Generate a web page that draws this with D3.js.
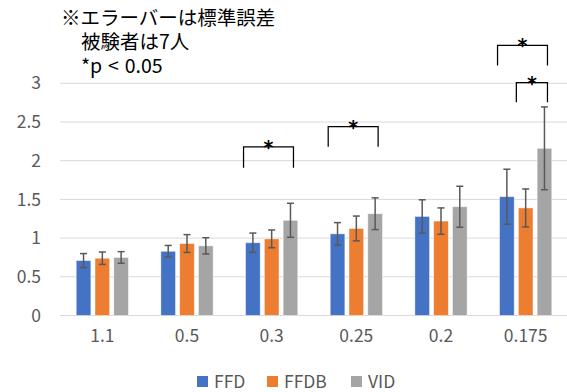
<!DOCTYPE html>
<html>
<head>
<meta charset="utf-8">
<script src="https://cdn.jsdelivr.net/npm/d3@7"></script>
<style>
  body { margin: 0; background: #fff; }
  svg { display: block; font-family: "Noto Sans CJK JP", "Noto Sans", sans-serif; }
</style>
</head>
<body>
<div id="chart"></div>
<script>
const categories = ["1.1", "0.5", "0.3", "0.25", "0.2", "0.175"];
const seriesNames = ["FFD", "FFDB", "VID"];
const colors = ["#4472C4", "#ED7D31", "#A5A5A5"];

const ffd = [0.71, 0.83, 0.94, 1.055, 1.28, 1.535];
const ffdb = [0.74, 0.93, 0.99, 1.125, 1.22, 1.39];
const vid = [0.75, 0.90, 1.23, 1.315, 1.405, 2.16];

const ffdErr = [0.09, 0.075, 0.125, 0.145, 0.215, 0.355];
const ffdbErr = [0.08, 0.115, 0.115, 0.16, 0.17, 0.245];
const vidErr = [0.075, 0.105, 0.22, 0.205, 0.265, 0.535];

const yTicks = [0, 0.5, 1, 1.5, 2, 2.5, 3];

// significance brackets: category, first and last series, top level, leg bottom
const brackets = [
  { cat: "0.3", from: 0, to: 2, top: 2.18, bottom: 1.91 },
  { cat: "0.25", from: 0, to: 2, top: 2.44, bottom: 2.18 },
  { cat: "0.175", from: 0, to: 2, top: 3.49, bottom: 3.23 },
  { cat: "0.175", from: 1, to: 2, top: 3.01, bottom: 2.755 }
];

const notes = ["※エラーバーは標準誤差", "被験者は7人", "*p < 0.05"];

const values = [ffd, ffdb, vid];
const errors = [ffdErr, ffdbErr, vidErr];

const width = 567, height = 392;
const svg = d3.select("#chart").append("svg")
  .attr("width", width)
  .attr("height", height);

const x0 = d3.scaleBand()
  .domain(categories)
  .range([60, 568])
  .paddingInner(0.334)
  .paddingOuter(0.167);

const x1 = d3.scaleBand()
  .domain(d3.range(seriesNames.length))
  .range([0, x0.bandwidth()])
  .paddingInner(0.22)
  .paddingOuter(0.11);

const y = d3.scaleLinear()
  .domain([0, 3])
  .range([315.5, 83.3]);

// gridlines
svg.append("g")
  .selectAll("line")
  .data(yTicks)
  .join("line")
  .attr("x1", 60)
  .attr("x2", 567)
  .attr("y1", d => y(d))
  .attr("y2", d => y(d))
  .attr("stroke", "#D9D9D9")
  .attr("stroke-width", 1);

// y axis labels
const yAxis = d3.axisLeft(y).tickValues(yTicks).tickSize(0).tickPadding(0)
  .tickFormat(d3.format("~g"));
svg.append("g")
  .attr("transform", "translate(41,0)")
  .call(yAxis)
  .call(g => g.select(".domain").remove())
  .call(g => g.selectAll("text")
    .attr("fill", "#595959")
    .attr("font-size", 17.5)
    .attr("font-family", "\"Noto Sans CJK JP\", sans-serif"));

// x axis labels
const xAxis = d3.axisBottom(x0).tickSize(0).tickPadding(0);
svg.append("g")
  .attr("transform", "translate(0,330)")
  .call(xAxis)
  .call(g => g.select(".domain").remove())
  .call(g => g.selectAll("text")
    .attr("fill", "#595959")
    .attr("font-size", 17.5)
    .attr("font-family", "\"Noto Sans CJK JP\", sans-serif"));

// bars
const rows = [];
categories.forEach((c, ci) => {
  seriesNames.forEach((s, si) => {
    rows.push({ cat: c, si, v: values[si][ci], e: errors[si][ci] });
  });
});

svg.append("g")
  .selectAll("rect")
  .data(rows)
  .join("rect")
  .attr("x", d => x0(d.cat) + x1(d.si))
  .attr("y", d => y(d.v))
  .attr("width", x1.bandwidth())
  .attr("height", d => y(0) - y(d.v))
  .attr("fill", d => colors[d.si])
  .attr("stroke", "#ffffff")
  .attr("stroke-opacity", 0.6)
  .attr("stroke-width", 0.75);

// error bars
const cap = 3.5;
const eb = svg.append("g")
  .attr("stroke", "#595959")
  .attr("stroke-width", 1.5);
const cx = d => x0(d.cat) + x1(d.si) + x1.bandwidth() / 2;
eb.selectAll(".stem")
  .data(rows)
  .join("line")
  .attr("x1", cx).attr("x2", cx)
  .attr("y1", d => y(d.v + d.e))
  .attr("y2", d => y(d.v - d.e));
eb.selectAll(".capTop")
  .data(rows)
  .join("line")
  .attr("x1", d => cx(d) - cap).attr("x2", d => cx(d) + cap)
  .attr("y1", d => y(d.v + d.e)).attr("y2", d => y(d.v + d.e));
eb.selectAll(".capBot")
  .data(rows)
  .join("line")
  .attr("x1", d => cx(d) - cap).attr("x2", d => cx(d) + cap)
  .attr("y1", d => y(d.v - d.e)).attr("y2", d => y(d.v - d.e));

// significance brackets
const bg = svg.append("g");
brackets.forEach(b => {
  const left = x0(b.cat) + x1(b.from) - 2;
  const right = x0(b.cat) + x1(b.to) + x1.bandwidth() / 2 + 3;
  bg.append("path")
    .attr("d", `M${left},${y(b.bottom)}V${y(b.top)}H${right}V${y(b.bottom)}`)
    .attr("fill", "none")
    .attr("stroke", "#000")
    .attr("stroke-width", 1.25);
  bg.append("text")
    .attr("x", (left + right) / 2)
    .attr("y", y(b.top) + 7)
    .attr("text-anchor", "middle")
    .attr("font-size", 19)
    .attr("font-weight", "bold")
    .attr("font-family", "\"DejaVu Sans\", sans-serif")
    .text("*");
});

// notes, one text block with a line per note
svg.append("text")
  .attr("y", 25)
  .attr("font-size", 19.5)
  .attr("fill", "#000")
  .selectAll("tspan")
  .data(notes)
  .join("tspan")
  .attr("x", (d, i) => i === 0 ? 61 : 81)
  .attr("dy", (d, i) => i === 0 ? 0 : 24)
  .attr("word-spacing", (d, i) => i === 2 ? 1.5 : 0)
  .text(d => d);

// legend
const legendX = [197, 267, 351];
const lg = svg.append("g");
seriesNames.forEach((s, i) => {
  lg.append("rect")
    .attr("x", legendX[i])
    .attr("y", 376)
    .attr("width", 11)
    .attr("height", 11)
    .attr("fill", colors[i]);
  lg.append("text")
    .attr("x", legendX[i] + 17)
    .attr("y", 387.5)
    .attr("font-size", 17.5)
    .attr("fill", "#595959")
    .text(s);
});
</script>
</body>
</html>
